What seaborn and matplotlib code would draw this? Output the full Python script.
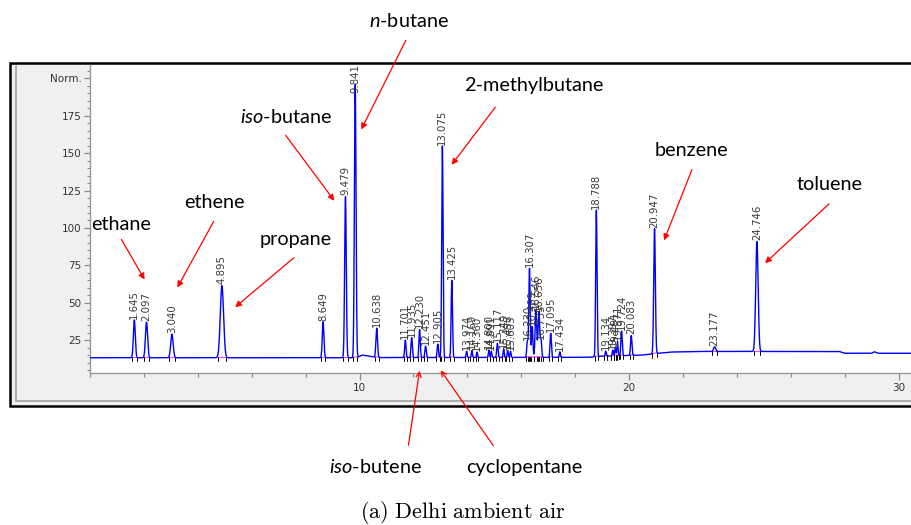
import numpy as np
import pandas as pd
import matplotlib
matplotlib.use("Agg")
import matplotlib.pyplot as plt
import seaborn as sns
from matplotlib.patches import Rectangle, FancyArrowPatch
from matplotlib.lines import Line2D
from matplotlib.ticker import MultipleLocator, FixedLocator

# ---------------- data ----------------
peak_times = [1.645, 2.097, 3.040, 4.895, 8.649, 9.479, 9.841, 10.638,
              11.701, 11.935, 12.230, 12.451, 12.905, 13.075, 13.425,
              13.974, 14.169, 14.360, 14.800, 14.891, 15.117, 15.349, 15.498, 15.603,
              16.230, 16.307, 16.409, 16.546, 16.656, 16.735, 17.095, 17.434,
              18.788, 19.134, 19.397, 19.491, 19.571, 19.724, 20.083,
              20.947, 23.177, 24.746]
peak_heights = [38.5, 37, 29, 61.5, 37.3, 121, 196, 33,
                25, 26.6, 32, 21, 22.3, 155, 65,
                17.5, 18, 17, 18.3, 17.5, 22.8, 19, 18, 17.5,
                24, 73, 34, 45, 44, 25, 29.5, 17.2,
                112, 17.6, 18.3, 20, 24, 31, 28,
                99.5, 20.5, 91]
peak_sigmas = [0.035, 0.04, 0.045, 0.06, 0.03, 0.03, 0.03, 0.03,
               0.025, 0.025, 0.025, 0.025, 0.025, 0.025, 0.025,
               0.02, 0.02, 0.02, 0.02, 0.02, 0.025, 0.02, 0.02, 0.02,
               0.025, 0.025, 0.025, 0.03, 0.03, 0.025, 0.025, 0.02,
               0.025, 0.02, 0.02, 0.02, 0.02, 0.025, 0.025,
               0.03, 0.04, 0.045]
label_y_override = {6: 190.5}

baseline_times = [0.0, 9.9, 10.1, 10.5, 10.6, 18.5, 19.0, 20.5, 21.5, 22.5, 27.8, 28.0, 29.0, 29.1, 29.25, 30.5]
baseline_vals = [13.2, 13.2, 15.0, 13.8, 13.3, 13.5, 14.2, 15.0, 17.0, 17.4, 17.4, 16.2, 16.2, 17.2, 16.2, 16.2]

y_tick_vals = [25, 50, 75, 100, 125, 150, 175, 200]
y_tick_labels = ["25", "50", "75", "100", "125", "150", "175", "Norm."]
x_tick_vals = [10, 20, 30]

compounds = ["ethane", "ethene", "propane", r"$\mathit{iso}$-butane", r"$\mathit{n}$-butane",
             "2-methylbutane", "benzene", "toluene", r"$\mathit{iso}$-butene", "cyclopentane"]

# ---------------- build trace from peaks ----------------
t = np.arange(0.0, 30.5, 0.004)
base = np.interp(t, baseline_times, baseline_vals)
sig = base.copy()
for tm, h, s in zip(peak_times, peak_heights, peak_sigmas):
    b0 = np.interp(tm, baseline_times, baseline_vals)
    sig += (h - b0) * np.exp(-0.5 * ((t - tm) / s) ** 2)
df = pd.DataFrame({"time": t, "signal": sig})

# ---------------- figure ----------------
sns.set_theme(style="white")
plt.rcParams["mathtext.fontset"] = "custom"
plt.rcParams["mathtext.rm"] = "Lato"
plt.rcParams["mathtext.it"] = "Lato:italic"

W, H = 912, 525
fig = plt.figure(figsize=(W / 100, H / 100), dpi=100)
fig.patch.set_facecolor("white")

def fx(px):
    return px / W

def fy(py):
    return 1 - py / H

# software frame
fig.add_artist(Rectangle((fx(10), fy(406)), fx(912) - fx(10) + 0.01, fy(63) - fy(406),
                         transform=fig.transFigure, facecolor="#f0f0f0",
                         edgecolor="black", lw=1.8, zorder=0))
fig.add_artist(Line2D([fx(16), fx(16)], [fy(66), fy(401)], transform=fig.transFigure,
                      color="#a0a0a0", lw=1.2))
fig.add_artist(Line2D([fx(16), fx(912)], [fy(401), fy(401)], transform=fig.transFigure,
                      color="#a0a0a0", lw=1.2))

ax = fig.add_axes([fx(90), fy(373), fx(912) - fx(90), fy(65) - fy(373)])
ax.set_facecolor("white")

sns.lineplot(data=df, x="time", y="signal", ax=ax, color="#0000ff", lw=1.0,
             estimator=None, sort=False, zorder=3)

# integration marks
for tm, h, s in zip(peak_times, peak_heights, peak_sigmas):
    lo, hi = tm - 2.6 * s, tm + 2.6 * s
    blo = np.interp(lo, baseline_times, baseline_vals)
    bhi = np.interp(hi, baseline_times, baseline_vals)
    ax.plot([lo, hi], [blo + 0.4, bhi + 0.4], color="#ff40ff", lw=0.8, zorder=2)
    ax.plot([lo, lo], [blo - 2.5, blo + 0.5], color="black", lw=0.7, zorder=4)
    ax.plot([hi, hi], [bhi - 2.5, bhi + 0.5], color="black", lw=0.7, zorder=4)

# peak labels
for i, (tm, h) in enumerate(zip(peak_times, peak_heights)):
    yl = label_y_override.get(i, h + 0.8)
    ax.text(tm, yl, f"{tm:.3f}", rotation=90, ha="center", va="bottom",
            fontsize=7.3, color="#3a3a3a", family="DejaVu Sans", zorder=5)

ax.set_xlim(0, 30.5)
ax.set_ylim(3, 209)
ax.set_xlabel("")
ax.set_ylabel("")
for sp in ["top", "right"]:
    ax.spines[sp].set_visible(False)
for sp in ["left", "bottom"]:
    ax.spines[sp].set_color("#9a9a9a")
    ax.spines[sp].set_linewidth(1.0)

ax.xaxis.set_major_locator(FixedLocator(x_tick_vals))
ax.xaxis.set_minor_locator(MultipleLocator(2))
ax.yaxis.set_major_locator(FixedLocator(y_tick_vals))
ax.yaxis.set_minor_locator(MultipleLocator(5))
ax.set_xticklabels([str(v) for v in x_tick_vals])
ax.set_yticklabels(y_tick_labels)
ax.tick_params(axis="x", which="major", direction="out", length=5, width=0.9,
               color="#8a8a8a", labelsize=7.5, labelcolor="#333333", pad=2, bottom=True)
ax.tick_params(axis="x", which="minor", direction="out", length=3, width=0.9,
               color="#8a8a8a", bottom=True)
ax.tick_params(axis="y", which="major", direction="out", length=4, width=0.9,
               color="#8a8a8a", labelsize=7.5, labelcolor="#333333", pad=2, left=True)
ax.tick_params(axis="y", which="minor", direction="out", length=2, width=0.8,
               color="#8a8a8a", left=True)
for lab in ax.get_xticklabels() + ax.get_yticklabels():
    lab.set_family("DejaVu Sans")

# compound annotations (figure pixel positions)
text_pos = [(121, 225), (214, 202), (296, 240), (286, 117), (409, 21),
            (534, 86), (691, 151), (830, 184), (375, 467), (524, 467)]
arrows = [((120, 237), (146, 282)), ((215, 219), (176, 290)), ((296, 256), (233, 309)),
          ((284, 133), (336, 203)), ((407, 38), (360, 132)), ((497, 105), (450, 167)),
          ((693, 167), (663, 243)), ((831, 202), (763, 265)), ((408, 448), (420, 368)),
          ((495, 448), (439, 368))]
for name, (px, py) in zip(compounds, text_pos):
    fig.text(fx(px), fy(py), name, ha="center", va="center", fontsize=14.3,
             family="Lato", color="black")
for i, ((x1, y1), (x2, y2)) in enumerate(arrows):
    style = "->" if i >= 8 else "-|>"
    fig.add_artist(FancyArrowPatch((fx(x1), fy(y1)), (fx(x2), fy(y2)),
                                   transform=fig.transFigure, arrowstyle=style,
                                   mutation_scale=9, color="red", lw=0.9, zorder=10))

fig.text(fx(463), fy(512), r"$\mathrm{(a)\ Delhi\ ambient\ air}$", ha="center", va="center",
         fontsize=16, math_fontfamily="cm", color="black")

fig.savefig("out.png", dpi=100)
